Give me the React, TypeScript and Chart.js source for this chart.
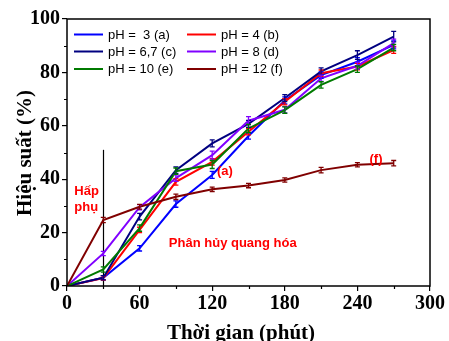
import React, { useEffect, useRef } from "react";
import { Chart, registerables } from "chart.js";

Chart.register(...registerables);

const times = [0, 30, 60, 90, 120, 150, 180, 210, 240, 270];
const phA = [0, 3.1, 14.1, 30.7, 41.6, 56.2, 69.5, 79, 84, 90.3];
const phB = [0, 3, 21, 39, 46.5, 57.8, 69, 79.7, 82.2, 88.4];
const phC = [0, 3.1, 26, 43.4, 53.4, 60.7, 70.4, 80.4, 86.5, 93.4];
const phD = [0, 12.2, 29.5, 40.4, 49, 61.9, 66, 77.8, 82.5, 91];
const phE = [0, 6.2, 21.7, 43, 45.5, 59, 65.9, 75.3, 81.2, 89.3];
const phF = [0, 24.7, 29.7, 33.4, 36.2, 37.6, 39.7, 43.4, 45.4, 46];

const errA = [0, 0.8, 1, 1.2, 1.3, 1.2, 1.3, 1.2, 1.5, 1.5];
const errB = [0, 0.8, 1, 1.2, 1.2, 1.2, 1.2, 1.2, 1.2, 1.3];
const errC = [0, 0.8, 1.2, 1.2, 1.3, 1.3, 1.3, 1.3, 1.6, 2];
const errD = [0, 0.8, 1, 1.2, 1.5, 1.5, 1.2, 1.2, 1.3, 1.5];
const errE = [0, 1, 1.2, 1.2, 1.5, 1.5, 1.2, 1.2, 1.2, 1.2];
const errF = [0, 1, 0.9, 1, 0.8, 0.8, 0.8, 1, 0.8, 1];

const labels = ["pH =  3 (a)", "pH = 4 (b)", "pH = 6,7 (c)", "pH = 8 (d)", "pH = 10 (e)", "pH = 12 (f)"];
const colors = ["#0000ff", "#ff0000", "#000080", "#8000ff", "#007a00", "#800000"];
const series = [phA, phB, phC, phD, phE, phF];
const errors = [errA, errB, errC, errD, errE, errF];

const xTicks = [0, 60, 120, 180, 240, 300];
const xMinor = [30, 90, 150, 210, 270];
const yTicks = [0, 20, 40, 60, 80, 100];
const yMinor = [10, 30, 50, 70, 90];

const xTitle = "Thời gian (phút)";
const yTitle = "Hiệu suất (%)";
const markerX = 30;
const markerTop = 51;

const annotations = [
  { text: "Hấp", x: 6, y: 35.5, align: "left" },
  { text: "phụ", x: 6, y: 29.3, align: "left" },
  { text: "Phân hủy quang hóa", x: 137, y: 16, align: "center" },
  { text: "(a)", x: 124, y: 43, align: "left" },
  { text: "(f)", x: 250, y: 47.5, align: "left" },
];

const customPlugin = {
  id: "custom",
  beforeDatasetsDraw(chart: any) {
    const { ctx, scales } = chart;
    const xs = scales.x, ys = scales.y;
    ctx.save();
    ctx.strokeStyle = "#000";
    ctx.lineWidth = 1.2;
    ctx.beginPath();
    const px = Math.round(xs.getPixelForValue(markerX)) + 0.5;
    ctx.moveTo(px, ys.getPixelForValue(markerTop));
    ctx.lineTo(px, ys.getPixelForValue(0));
    ctx.stroke();
    ctx.restore();
  },
  afterDatasetsDraw(chart: any) {
    const { ctx, scales } = chart;
    const ys = scales.y;
    ctx.save();
    chart.data.datasets.forEach((ds: any, di: number) => {
      const meta = chart.getDatasetMeta(di);
      const err = errors[di];
      ctx.strokeStyle = ds.borderColor;
      ctx.lineWidth = 1.3;
      meta.data.forEach((pt: any, i: number) => {
        const e = err[i];
        if (!e) return;
        const v = series[di][i];
        const y1 = ys.getPixelForValue(v + e);
        const y2 = ys.getPixelForValue(v - e);
        ctx.beginPath();
        ctx.moveTo(pt.x, y1);
        ctx.lineTo(pt.x, y2);
        ctx.moveTo(pt.x - 2.5, y1);
        ctx.lineTo(pt.x + 2.5, y1);
        ctx.moveTo(pt.x - 2.5, y2);
        ctx.lineTo(pt.x + 2.5, y2);
        ctx.stroke();
      });
    });
    ctx.restore();
  },
  afterDraw(chart: any) {
    const { ctx, chartArea: a, scales } = chart;
    const xs = scales.x, ys = scales.y;
    ctx.save();
    // frame
    ctx.strokeStyle = "#000";
    ctx.lineWidth = 1.5;
    ctx.strokeRect(a.left, a.top, a.right - a.left, a.bottom - a.top);
    // minor ticks
    ctx.lineWidth = 1.2;
    ctx.beginPath();
    xMinor.forEach((v) => {
      const p = Math.round(xs.getPixelForValue(v)) + 0.5;
      ctx.moveTo(p, a.bottom);
      ctx.lineTo(p, a.bottom + 3);
    });
    yMinor.forEach((v) => {
      const p = Math.round(ys.getPixelForValue(v)) + 0.5;
      ctx.moveTo(a.left, p);
      ctx.lineTo(a.left - 3, p);
    });
    ctx.stroke();
    // titles
    ctx.fillStyle = "#000";
    ctx.font = "bold 21px 'Liberation Serif', 'Times New Roman', serif";
    ctx.textAlign = "center";
    ctx.textBaseline = "alphabetic";
    ctx.fillText(xTitle, 241, 339);
    ctx.save();
    ctx.translate(31, 153);
    ctx.rotate(-Math.PI / 2);
    ctx.fillText(yTitle, 0, 0);
    ctx.restore();
    // legend
    ctx.font = "13px 'Liberation Sans', Arial, sans-serif";
    ctx.textAlign = "left";
    ctx.textBaseline = "middle";
    const rowsY = [34.5, 51.5, 69];
    const colX = [74, 187];
    labels.forEach((lab, i) => {
      const r = Math.floor(i / 2), c = i % 2;
      const y = rowsY[r];
      ctx.strokeStyle = colors[i];
      ctx.lineWidth = 2;
      ctx.beginPath();
      ctx.moveTo(colX[c], y);
      ctx.lineTo(colX[c] + 29, y);
      ctx.stroke();
      ctx.fillStyle = "#000";
      ctx.fillText(lab, colX[c] + 34, y + 0.5);
    });
    // annotations
    ctx.fillStyle = "#ff0000";
    ctx.font = "bold 13px 'Liberation Sans', Arial, sans-serif";
    annotations.forEach((an) => {
      ctx.textAlign = an.align as CanvasTextAlign;
      ctx.fillText(an.text, xs.getPixelForValue(an.x), ys.getPixelForValue(an.y));
    });
    ctx.restore();
  },
};

export default function App() {
  const ref = useRef<HTMLCanvasElement | null>(null);
  useEffect(() => {
    document.body.style.margin = "0";
    const canvas = ref.current!;
    const chart = new Chart(canvas, {
      type: "line",
      data: {
        datasets: series.map((s, i) => ({
          label: labels[i],
          data: s.map((v, j) => ({ x: times[j], y: v })),
          borderColor: colors[i],
          backgroundColor: colors[i],
          borderWidth: 2,
          pointRadius: 0,
          tension: 0,
          order: 5 - i,
        })),
      },
      options: {
        responsive: false,
        animation: false,
        layout: { padding: { top: 19, right: 19, left: 0, bottom: 0 } },
        plugins: { legend: { display: false }, tooltip: { enabled: false } },
        scales: {
          x: {
            type: "linear",
            min: 0,
            max: 300,
            afterFit: (s: any) => { s.height = 55; },
            afterBuildTicks: (s: any) => { s.ticks = xTicks.map((v) => ({ value: v })); },
            grid: { drawOnChartArea: false, drawTicks: true, tickLength: 5, color: "#000", lineWidth: 1.2 },
            border: { display: false },
            ticks: {
              color: "#000",
              padding: 1,
              maxRotation: 0,
              font: { family: "'Liberation Serif', 'Times New Roman', serif", size: 20, weight: "bold" },
            },
          },
          y: {
            type: "linear",
            min: 0,
            max: 100,
            afterFit: (s: any) => { s.width = 67; },
            afterBuildTicks: (s: any) => { s.ticks = yTicks.map((v) => ({ value: v })); },
            grid: { drawOnChartArea: false, drawTicks: true, tickLength: 5, color: "#000", lineWidth: 1.2 },
            border: { display: false },
            ticks: {
              color: "#000",
              padding: 2,
              font: { family: "'Liberation Serif', 'Times New Roman', serif", size: 20, weight: "bold" },
            },
          },
        },
      } as any,
      plugins: [customPlugin],
    });
    return () => chart.destroy();
  }, []);
  return <canvas ref={ref} width={449} height={341} style={{ display: "block" }} />;
}
